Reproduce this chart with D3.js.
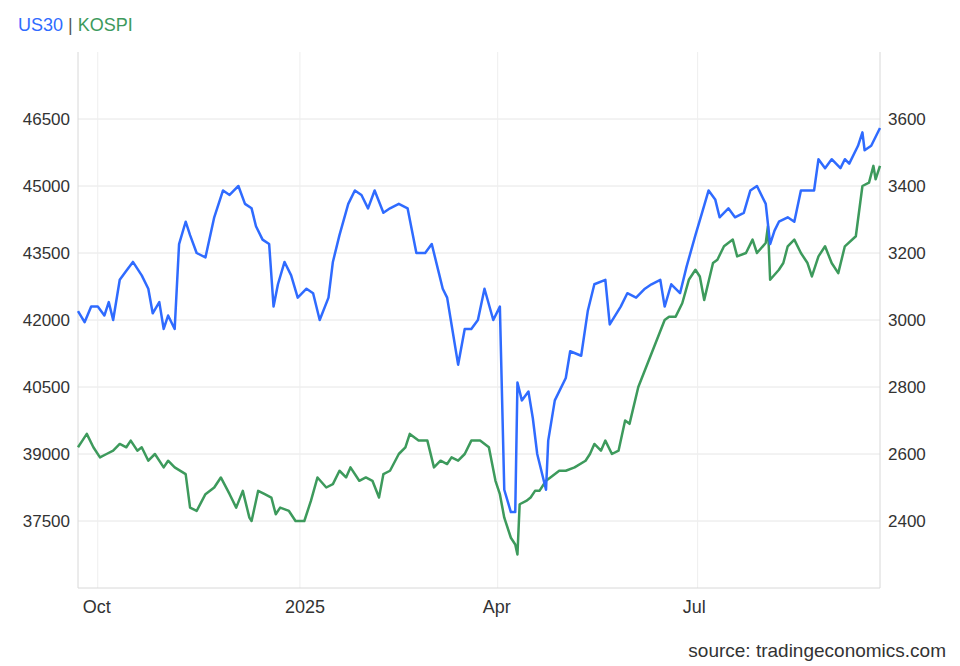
<!DOCTYPE html>
<html><head><meta charset="utf-8">
<script src="https://cdn.jsdelivr.net/npm/d3@7"></script>
<style>body{margin:0;background:#fff;font-family:"Liberation Sans",Arial,sans-serif}</style>
</head><body><svg id="chart" width="960" height="666"></svg>
<script>
// days counted from 2024-10-01
const usDays = [-9,-6,-3,0,3,5,7,10,13,16,20,23,25,28,30,32,35,37,40,42,45,49,53,57,60,62,64,67,70,72,75,78,80,82,85,88,91,95,98,101,105,107,110,114,117,120,123,126,130,133,137,141,145,149,152,155,157,159,161,164,167,170,173,176,180,183,185,188,190,191,193,196,198,200,204,205,208,213,215,220,223,226,231,233,238,241,245,249,252,256,258,261,265,268,272,275,278,281,283,287,290,294,297,300,304,306,308,310,314,317,320,323,326,328,331,334,338,340,342,346,348,349,352,356];
const usVals = [42200,41950,42300,42300,42100,42400,42000,42900,43100,43300,43000,42700,42150,42400,41800,42100,41800,43700,44200,43900,43500,43400,44300,44900,44800,44900,45000,44600,44500,44100,43800,43700,42300,42800,43300,43000,42500,42700,42600,42000,42500,43300,43900,44600,44900,44800,44500,44900,44400,44500,44600,44500,43500,43500,43700,43100,42700,42500,41900,41000,41800,41800,42000,42700,42000,42300,38200,37700,37700,40600,40200,40400,39800,39000,38200,39300,40200,40700,41300,41200,42200,42800,42900,41900,42300,42600,42500,42700,42800,42900,42300,42800,42600,43200,43900,44400,44900,44700,44300,44500,44300,44400,44900,45000,44600,43700,44000,44200,44300,44200,44900,44900,44900,45600,45400,45600,45400,45600,45500,45900,46200,45800,45900,46300];
const kospiDays = [-9,-7,-5,-2,1,4,7,10,13,15,18,20,23,26,30,32,35,40,42,45,49,53,56,60,63,66,69,70,73,76,79,81,83,87,90,94,97,100,104,107,110,113,115,119,122,125,128,130,133,137,140,142,146,150,153,156,159,161,164,167,170,174,178,181,183,185,188,190,191,192,195,197,199,201,204,206,210,213,217,222,224,226,229,231,234,237,240,242,246,249,252,255,258,260,263,266,269,272,274,276,280,282,285,289,291,295,298,300,304,305,306,310,312,314,317,320,323,325,328,331,334,337,340,345,347,348,351,353,354,356];
const kospiVals = [2620,2640,2660,2620,2590,2600,2610,2630,2620,2640,2610,2620,2580,2600,2560,2580,2560,2540,2440,2430,2480,2500,2530,2480,2440,2490,2410,2400,2490,2480,2470,2420,2440,2430,2400,2400,2460,2530,2500,2510,2550,2530,2560,2520,2530,2520,2470,2540,2550,2600,2620,2660,2640,2640,2560,2580,2570,2590,2580,2600,2640,2640,2620,2520,2480,2410,2350,2330,2300,2450,2460,2470,2490,2490,2520,2530,2550,2550,2560,2580,2600,2630,2610,2640,2600,2610,2700,2690,2800,2850,2900,2950,3000,3010,3010,3050,3120,3150,3130,3060,3170,3180,3220,3240,3190,3200,3240,3200,3230,3280,3120,3150,3170,3220,3240,3200,3170,3130,3190,3220,3170,3140,3220,3250,3350,3400,3410,3460,3420,3460];
const leftTicks = [37500,39000,40500,42000,43500,45000,46500];
const rightTicks = [2400,2600,2800,3000,3200,3400,3600];
const monthTicks = [["2024-10-01","Oct"],["2025-01-01","2025"],["2025-04-01","Apr"],["2025-07-01","Jul"]];

const svg = d3.select("#chart");
const m = {left:78, right:880, top:52, bottom:588};
const base = new Date(2024,9,1);
const toDate = d => d3.timeDay.offset(base, d);

const x = d3.scaleTime().domain([toDate(-9), toDate(356)]).range([m.left, m.right]);
const yL = d3.scaleLinear().domain([36000,48000]).range([m.bottom, m.top]);
const yR = d3.scaleLinear().domain([2200,3800]).range([m.bottom, m.top]);

// grid
svg.selectAll(".hg").data(leftTicks).enter().append("line")
  .attr("x1", m.left).attr("x2", m.right)
  .attr("y1", d => yL(d)).attr("y2", d => yL(d))
  .attr("stroke","#e6e6e6");
svg.selectAll(".vg").data(monthTicks).enter().append("line")
  .attr("x1", d => x(new Date(d[0]+"T00:00"))).attr("x2", d => x(new Date(d[0]+"T00:00")))
  .attr("y1", m.top).attr("y2", m.bottom)
  .attr("stroke","#eeeeee");
svg.append("line").attr("x1",m.left).attr("x2",m.left).attr("y1",m.top).attr("y2",m.bottom).attr("stroke","#d8d8d8");
svg.append("line").attr("x1",m.right).attr("x2",m.right).attr("y1",m.top).attr("y2",m.bottom).attr("stroke","#d8d8d8");
svg.append("line").attr("x1",m.left).attr("x2",m.right).attr("y1",m.bottom).attr("y2",m.bottom).attr("stroke","#d8d8d8");

// labels
svg.selectAll(".lt").data(leftTicks).enter().append("text")
  .attr("x", 70).attr("y", d => yL(d) + 6).attr("text-anchor","end")
  .attr("font-size",17).attr("fill","#333").text(d => d);
svg.selectAll(".rt").data(rightTicks).enter().append("text")
  .attr("x", 888).attr("y", d => yR(d) + 6)
  .attr("font-size",17).attr("fill","#333").text(d => d);
svg.selectAll(".mt").data(monthTicks).enter().append("text")
  .attr("x", d => x(new Date(d[0]+"T00:00")) - 15).attr("y", 613)
  .attr("font-size",18).attr("fill","#333").text(d => d[1]);

// lines
const usLine = d3.line().x((d,i) => x(toDate(usDays[i]))).y(d => yL(d));
const kLine = d3.line().x((d,i) => x(toDate(kospiDays[i]))).y(d => yR(d));
svg.append("path").attr("d", kLine(kospiVals)).attr("fill","none")
  .attr("stroke","#3d9a5c").attr("stroke-width",2.5).attr("stroke-linejoin","round");
svg.append("path").attr("d", usLine(usVals)).attr("fill","none")
  .attr("stroke","#2f6bff").attr("stroke-width",2.5).attr("stroke-linejoin","round");

// title and source
const t = svg.append("text").attr("x",18).attr("y",31).attr("font-size",18);
t.append("tspan").attr("fill","#2f6bff").text("US30");
t.append("tspan").attr("fill","#555").text(" | ");
t.append("tspan").attr("fill","#3d9a5c").text("KOSPI");
svg.append("text").attr("x",946).attr("y",657).attr("text-anchor","end")
  .attr("font-size",19).attr("fill","#333").text("source: tradingeconomics.com");
</script></body></html>
